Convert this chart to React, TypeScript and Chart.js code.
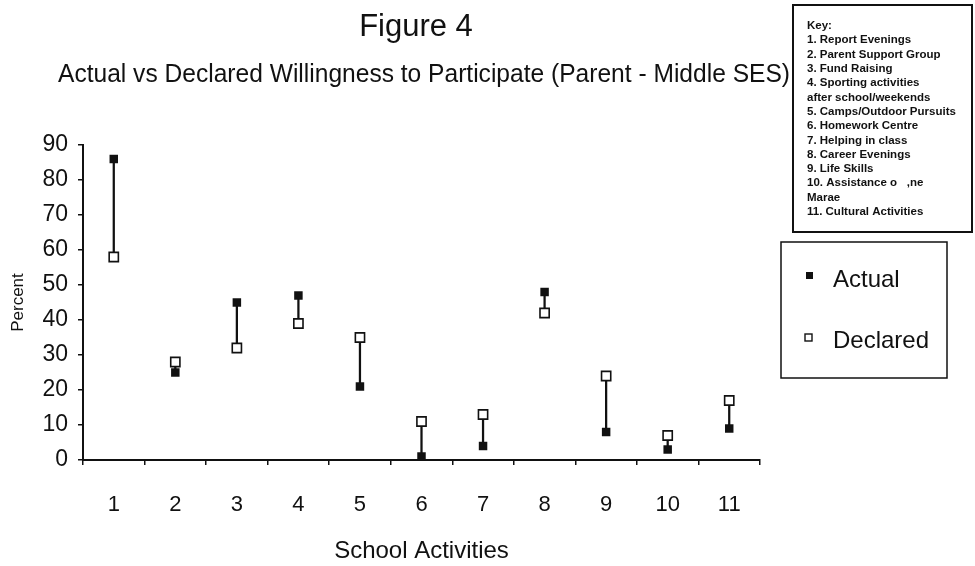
import React, { useEffect, useRef } from "react";
import { Chart, registerables } from "chart.js";

Chart.register(...registerables);

const categories = ["1", "2", "3", "4", "5", "6", "7", "8", "9", "10", "11"];
const actual = [86, 25, 45, 47, 21, 1, 4, 48, 8, 3, 9];
const declared = [58, 28, 32, 39, 35, 11, 13, 42, 24, 7, 17];
const seriesLabels = ["Actual", "Declared"];
const yMin = 0;
const yMax = 90;
const yStep = 10;
const titleText = "Figure 4";
const subtitleText = "Actual vs Declared Willingness to Participate (Parent - Middle SES)";
const xTitle = "School Activities";
const yTitle = "Percent";
const keyLines = [
  "Key:",
  "1. Report Evenings",
  "2. Parent Support Group",
  "3. Fund Raising",
  "4. Sporting activities",
  "after school/weekends",
  "5. Camps/Outdoor Pursuits",
  "6. Homework Centre",
  "7. Helping in class",
  "8. Career Evenings",
  "9. Life Skills",
  "10. Assistance o   ,ne",
  "Marae",
  "11. Cultural Activities",
];

const FONT = "'Liberation Sans', Arial, Helvetica, sans-serif";
const INK = "#111";

const decorPlugin = {
  id: "decor",
  afterDraw(chart: any) {
    const ctx = chart.ctx as CanvasRenderingContext2D;
    ctx.save();
    ctx.fillStyle = INK;
    ctx.strokeStyle = INK;

    // Title
    ctx.font = `31px ${FONT}`;
    ctx.textAlign = "center";
    ctx.textBaseline = "alphabetic";
    ctx.fillText(titleText, 416, 36, 118);

    // Subtitle
    ctx.font = `25px ${FONT}`;
    ctx.textAlign = "left";
    ctx.fillText(subtitleText, 58, 82, 732);

    // Key box
    ctx.lineWidth = 2;
    ctx.strokeRect(793, 5, 179, 227);
    ctx.font = `bold 11.5px ${FONT}`;
    ctx.textBaseline = "middle";
    keyLines.forEach((line, i) => {
      ctx.fillText(line, 807, 26 + i * 14.3, 160);
    });

    // Legend box
    ctx.lineWidth = 1.5;
    ctx.strokeRect(781, 242, 166, 136);
    ctx.font = `24px ${FONT}`;
    ctx.textBaseline = "middle";
    // Actual marker
    ctx.fillRect(806, 272, 7, 7);
    ctx.fillText(chart.data.datasets[1].label, 833, 280);
    // Declared marker
    ctx.lineWidth = 1.4;
    ctx.fillStyle = "#fff";
    ctx.fillRect(805, 334, 7, 7);
    ctx.strokeRect(805, 334, 7, 7);
    ctx.fillStyle = INK;
    ctx.fillText(chart.data.datasets[2].label, 833, 341);

    ctx.restore();
  },
};

export default function App() {
  const canvasRef = useRef<HTMLCanvasElement | null>(null);

  useEffect(() => {
    if (!canvasRef.current) return;
    const ranges = categories.map((_, i) => [
      Math.min(actual[i], declared[i]),
      Math.max(actual[i], declared[i]),
    ]);
    const chart = new Chart(canvasRef.current, {
      type: "bar",
      data: {
        labels: categories,
        datasets: [
          {
            type: "bar",
            label: "range",
            data: ranges as any,
            backgroundColor: INK,
            borderWidth: 0,
            barThickness: 1.6,
            order: 3,
          } as any,
          {
            type: "line",
            label: seriesLabels[0],
            data: actual,
            showLine: false,
            pointStyle: "rect",
            pointRadius: 6,
            pointBackgroundColor: INK,
            pointBorderColor: INK,
            pointBorderWidth: 0,
            order: 1,
          } as any,
          {
            type: "line",
            label: seriesLabels[1],
            data: declared,
            showLine: false,
            pointStyle: "rect",
            pointRadius: 6.5,
            pointBackgroundColor: "#fff",
            pointBorderColor: INK,
            pointBorderWidth: 1.6,
            order: 2,
          } as any,
        ],
      },
      options: {
        responsive: false,
        animation: false,
        devicePixelRatio: 1,
        layout: { padding: { left: 0, right: 215, top: 145, bottom: 0 } },
        plugins: {
          legend: { display: false },
          tooltip: { enabled: false },
          title: { display: false },
        },
        scales: {
          x: {
            type: "category",
            offset: true,
            grid: {
              display: true,
              offset: true,
              drawOnChartArea: false,
              drawTicks: true,
              tickLength: 5,
              color: INK,
              lineWidth: 1.5,
            },
            border: { display: true, color: INK, width: 2 },
            ticks: {
              color: INK,
              font: { family: FONT, size: 22 },
              padding: 27,
              maxRotation: 0,
              autoSkip: false,
            },
            title: {
              display: true,
              text: xTitle,
              color: INK,
              font: { family: FONT, size: 24 },
              padding: { top: 0, bottom: 0 },
            },
            afterFit(scale: any) {
              scale.height = 106;
            },
          },
          y: {
            min: yMin,
            max: yMax,
            grid: {
              display: true,
              drawOnChartArea: false,
              drawTicks: true,
              tickLength: 5,
              color: INK,
              lineWidth: 1.5,
            },
            border: { display: true, color: INK, width: 2 },
            ticks: {
              stepSize: yStep,
              color: INK,
              font: { family: FONT, size: 23 },
              padding: 10,
            },
            title: {
              display: true,
              text: yTitle,
              color: INK,
              font: { family: FONT, size: 17 },
              padding: { top: 8, bottom: 0 },
            },
            afterFit(scale: any) {
              scale.width = 83;
            },
          },
        },
      },
      plugins: [decorPlugin],
    });
    return () => chart.destroy();
  }, []);

  return (
    <div
      style={{
        position: "fixed",
        left: 0,
        top: 0,
        width: 975,
        height: 566,
        background: "#fff",
      }}
    >
      <canvas ref={canvasRef} width={975} height={566} style={{ display: "block" }} />
    </div>
  );
}
